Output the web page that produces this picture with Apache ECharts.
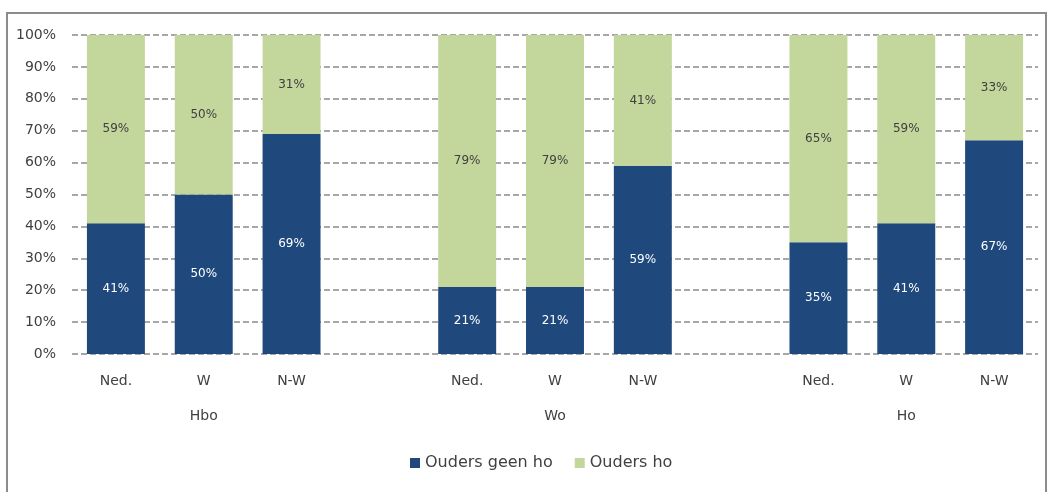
<!DOCTYPE html>
<html>
<head>
<meta charset="utf-8">
<script src="https://cdn.jsdelivr.net/npm/echarts@6/dist/echarts.min.js"></script>
<style>
  html, body { margin: 0; padding: 0; background: #fff; }
  #frame { position: absolute; left: 6px; top: 12px; width: 1041px; height: 486px; border: 2px solid #8c8c8c; box-sizing: border-box; }
  #chart { position: absolute; left: 0; top: 0; width: 1049px; height: 492px; }
</style>
</head>
<body>
<div id="frame"></div>
<div id="chart"></div>
<script>
// Education type per slot; empty strings are the gaps between groups
const categories = ['Ned.', 'W', 'N-W', '', 'Ned.', 'W', 'N-W', '', 'Ned.', 'W', 'N-W'];
const groupLabels = ['', 'Hbo', '', '', '', 'Wo', '', '', '', 'Ho', ''];
const seriesNames = ['Ouders geen ho', 'Ouders ho'];
const oudersGeenHo = [41, 50, 69, null, 21, 21, 59, null, 35, 41, 67];
const oudersHo = [59, 50, 31, null, 79, 79, 41, null, 65, 59, 33];
const yTicks = [0, 10, 20, 30, 40, 50, 60, 70, 80, 90, 100];

const font = 'DejaVu Sans';
const chart = echarts.init(document.getElementById('chart'));

chart.setOption({
  animation: false,
  textStyle: { fontFamily: font },
  grid: { left: 72, right: 11, top: 35, bottom: 138 },
  legend: {
    data: seriesNames,
    bottom: 16,
    left: 405,
    icon: 'rect',
    itemWidth: 10,
    itemHeight: 10,
    itemGap: 22,
    textStyle: { fontFamily: font, fontSize: 16, color: '#404040' }
  },
  xAxis: [
    {
      type: 'category',
      data: categories,
      axisLine: { show: false },
      axisTick: { show: false },
      axisLabel: { margin: 20, fontSize: 14, color: '#404040', interval: 0 }
    },
    {
      type: 'category',
      data: groupLabels,
      position: 'bottom',
      offset: 35,
      axisLine: { show: false },
      axisTick: { show: false },
      axisLabel: { margin: 20, fontSize: 14, color: '#404040', interval: 0 }
    }
  ],
  yAxis: {
    type: 'value',
    min: yTicks[0],
    max: yTicks[yTicks.length - 1],
    interval: 10,
    axisLine: { show: false },
    axisTick: { show: false },
    axisLabel: { formatter: '{value}%', margin: 16, fontSize: 14, color: '#404040' },
    splitLine: { lineStyle: { type: [6, 3], color: '#8a8a8a', width: 1.5 } }
  },
  series: [
    {
      name: seriesNames[0],
      type: 'bar',
      stack: 'total',
      barWidth: '66%',
      data: oudersGeenHo,
      itemStyle: { color: '#1f497d' },
      label: { show: true, position: 'inside', formatter: '{c}%', color: '#ffffff', fontSize: 12 }
    },
    {
      name: seriesNames[1],
      type: 'bar',
      stack: 'total',
      barWidth: '66%',
      data: oudersHo,
      itemStyle: { color: '#c3d69b' },
      label: { show: true, position: 'inside', formatter: '{c}%', color: '#404040', fontSize: 12 }
    }
  ]
});
</script>
</body>
</html>
